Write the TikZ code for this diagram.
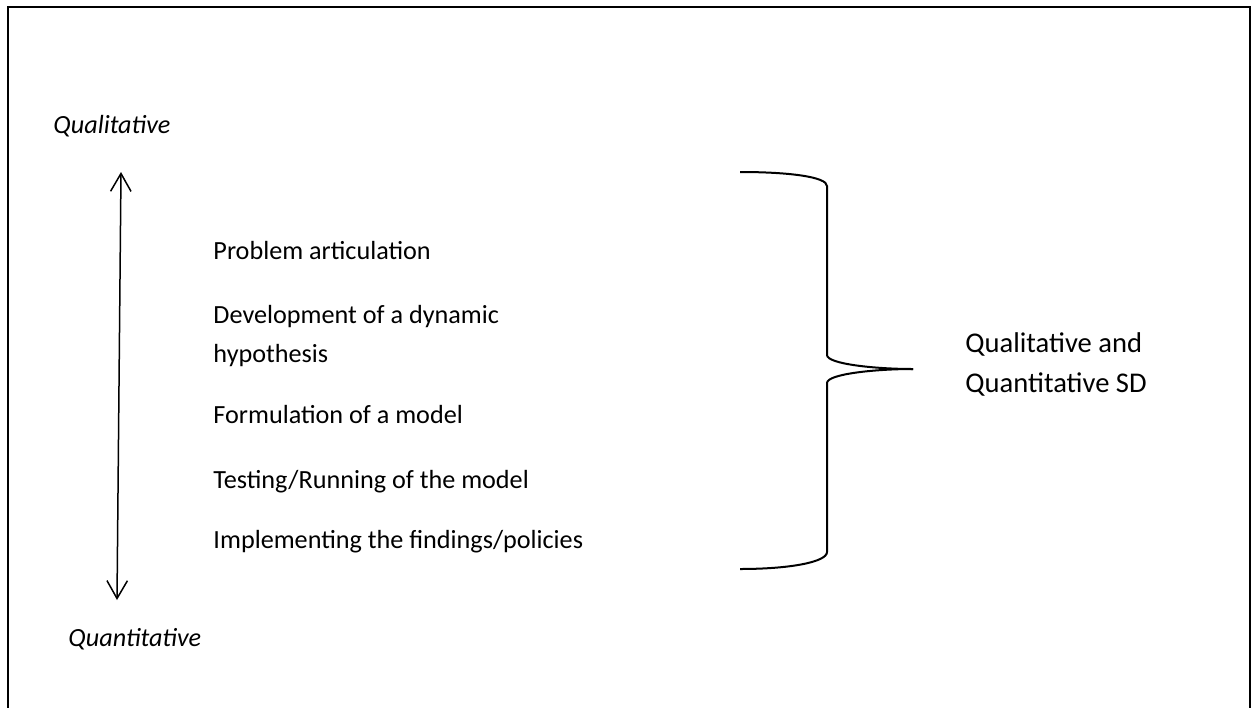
\documentclass[tikz,border=0pt]{standalone}
\usepackage{fontspec}
\setmainfont{Carlito}
\usetikzlibrary{arrows.meta}
% two lines stacked so that the baseline is that of the first line
\newcommand{\twolines}[2]{\vtop{\hbox{#1}\hbox{#2}}}
\begin{document}
\begin{tikzpicture}[x=0.42pt,y=-0.42pt,
  frame/.style={line width=0.84pt},
  axis/.style={line width=0.63pt,{Straight Barb[length=7.5pt,width=8.6pt]}-{Straight Barb[length=7.5pt,width=8.6pt]}},
  bracket/.style={line width=0.84pt},
  stage/.style={anchor=base west,inner sep=0pt,font=\fontsize{11}{16.4}\selectfont},
  pole/.style={anchor=base west,inner sep=0pt,font=\fontsize{11}{13}\selectfont\itshape},
  summary/.style={anchor=base west,inner sep=0pt,font=\fontsize{12}{17.2}\selectfont}]
\useasboundingbox (0,0) rectangle (1253,707);
% outer frame, open at the bottom edge
\draw[frame] (8,730) -- (8,7) -- (1250,7) -- (1250,730);

% the qualitative / quantitative axis
\node[pole] (qual) at (53,133) {Qualitative};
\node[pole] (quant) at (68,646) {Quantitative};
\coordinate (top) at (121,172);
\coordinate (bottom) at (117,600);
\draw[axis] (bottom) -- (top);

% modelling stages
\node[stage] (s1) at (213,259) {Problem articulation};
\node[stage] (s2) at (213,323) {\twolines{Development of a dynamic}{hypothesis}};
\node[stage] (s3) at (213,423) {Formulation of a model};
\node[stage] (s4) at (213,488) {Testing/Running of the model};
\node[stage] (s5) at (213,548) {Implementing the findings/policies};

% curly brace grouping the stages
\coordinate (bt) at (740,172);
\coordinate (tip) at (913,369);
\coordinate (bb) at (740,569);
\draw[bracket] (bt) .. controls (790,172) and (827,177) .. (827,186)
  -- (827,355) .. controls (827,364) and (875,369) .. (tip);
\draw[bracket] (tip) .. controls (875,369) and (827,374) .. (827,383)
  -- (827,552) .. controls (827,562) and (790,569) .. (bb);

\node[summary] (sd) at (965,352) {\twolines{Qualitative and}{Quantitative SD}};
\end{tikzpicture}
\end{document}
